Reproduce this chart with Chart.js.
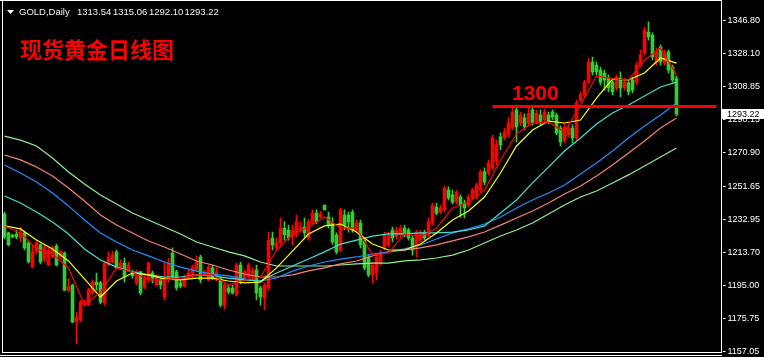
<!DOCTYPE html>
<html><head><meta charset="utf-8">
<script src="https://cdn.jsdelivr.net/npm/chart.js@4.4.1/dist/chart.umd.min.js"></script>
<style>html,body{margin:0;padding:0;background:#000;overflow:hidden}canvas{display:block}</style>
</head><body>
<canvas id="c" width="764" height="357"></canvas>
<script>
// ---------- data (GOLD, Daily) ----------
const symbolTitle = "GOLD,Daily";
const lastQuote = ["1313.54", "1315.06", "1292.10", "1293.22"];
const chartTitle = "现货黄金日线图";
const levelLabel = "1300";
const levelValue = 1297.6;
const levelFrom = 122, levelTo = 178;
const lastPrice = 1293.22;

const yTicks = [1346.80, 1328.10, 1308.85, 1290.15, 1270.90, 1251.65, 1232.95, 1213.70, 1195.00, 1175.75, 1157.05];

const O = [
1235.9,1225.0,1223.8,1224.4,1222.1,1225.0,1219.2,1205.4,1214.1,1218.1,
1209.5,1206.6,1211.2,1217.5,1211.2,1213.5,1192.2,1195.1,1173.9,1175.0,
1183.6,1183.6,1190.5,1196.8,1196.3,1184.8,1206.6,1208.3,1214.1,1204.9,
1207.7,1203.7,1202.6,1196.3,1202.6,1194.0,1198.0,1202.0,1195.1,1198.0,
1188.2,1198.0,1213.5,1202.6,1196.3,1194.5,1199.1,1199.7,1203.7,1211.2,
1200.9,1198.0,1204.9,1198.0,1199.1,1183.6,1193.4,1193.4,1189.4,1206.6,
1198.0,1199.7,1199.7,1203.7,1193.4,1187.6,1193.4,1222.1,1216.4,1219.2,
1227.8,1226.7,1222.7,1223.8,1226.7,1228.4,1222.1,1230.7,1236.4,1234.1,
1241.0,1234.1,1230.7,1223.8,1215.2,1235.3,1235.3,1237.0,1226.7,1230.7,
1220.9,1211.2,1200.9,1202.0,1207.7,1216.9,1218.1,1226.7,1222.7,1223.8,
1227.8,1226.7,1222.1,1216.9,1220.9,1225.0,1223.8,1230.7,1239.9,1237.0,
1238.2,1249.6,1246.8,1242.7,1245.6,1242.2,1241.0,1245.1,1245.6,1249.6,
1260.0,1259.4,1262.3,1265.7,1280.1,1279.5,1281.2,1285.2,1295.6,1288.1,
1291.0,1288.1,1295.6,1288.7,1292.7,1289.8,1292.7,1294.4,1292.7,1285.2,
1278.3,1281.2,1285.2,1279.5,1301.3,1304.2,1311.6,1323.1,1321.4,1318.5,
1316.8,1313.9,1311.6,1308.2,1313.9,1308.2,1311.1,1312.8,1311.6,1321.4,
1328.3,1340.3,1338.6,1323.1,1331.7,1322.5,1328.9,1320.2,1313.54
];
const H = [
1237.0,1225.5,1224.4,1226.7,1228.4,1225.5,1220.4,1218.1,1220.4,1218.6,
1218.1,1216.4,1217.5,1218.6,1215.2,1214.1,1198.6,1195.7,1179.6,1186.5,
1186.5,1193.4,1198.0,1202.0,1197.4,1208.9,1214.1,1214.6,1215.2,1209.5,
1210.6,1208.3,1203.7,1203.7,1203.1,1200.9,1208.3,1203.1,1200.9,1199.1,
1208.3,1210.6,1216.4,1203.7,1198.0,1200.9,1203.7,1206.6,1211.8,1212.3,
1203.7,1206.6,1206.6,1204.9,1199.7,1196.3,1195.1,1195.1,1207.7,1208.3,
1203.7,1207.7,1204.9,1206.6,1194.5,1196.3,1225.5,1225.5,1222.1,1233.6,
1231.3,1229.5,1229.5,1235.3,1231.3,1233.6,1233.0,1238.2,1238.2,1237.6,
1241.0,1237.0,1233.6,1225.0,1239.3,1238.2,1237.0,1238.2,1232.4,1232.4,
1222.1,1212.3,1208.3,1212.3,1215.2,1225.5,1225.5,1228.4,1228.4,1229.5,
1229.5,1227.8,1223.2,1226.7,1226.7,1226.7,1233.6,1242.2,1242.2,1241.0,
1251.9,1251.4,1249.6,1249.6,1246.8,1243.9,1246.8,1250.8,1253.7,1261.1,
1262.3,1266.9,1281.2,1278.3,1282.4,1285.2,1291.0,1296.7,1298.4,1294.4,
1293.3,1296.7,1297.3,1295.6,1295.6,1296.1,1294.4,1295.6,1293.8,1286.4,
1287.5,1287.0,1287.0,1301.3,1305.9,1312.8,1325.4,1326.0,1323.1,1320.2,
1318.5,1315.7,1312.8,1315.7,1317.4,1313.9,1312.8,1314.5,1323.1,1330.0,
1343.2,1346.1,1339.8,1331.1,1332.9,1330.0,1330.0,1321.4,1315.06
];
const L = [
1221.5,1217.5,1222.1,1221.5,1219.8,1215.2,1207.7,1204.9,1212.9,1207.2,
1208.3,1206.0,1210.6,1206.0,1210.0,1191.7,1191.1,1173.3,1161.3,1173.9,
1183.1,1183.1,1189.9,1192.2,1184.2,1183.6,1206.0,1207.7,1204.3,1203.7,
1196.8,1203.1,1199.1,1195.1,1189.4,1192.8,1196.8,1196.3,1194.5,1192.8,
1186.5,1196.8,1198.0,1192.2,1193.4,1193.9,1198.6,1199.1,1203.1,1196.3,
1200.3,1197.4,1198.0,1197.4,1182.5,1181.3,1189.9,1189.9,1188.8,1195.7,
1197.4,1199.1,1198.6,1186.5,1183.6,1180.8,1192.2,1215.2,1215.2,1218.1,
1220.9,1220.9,1218.1,1222.7,1225.5,1222.7,1220.9,1229.5,1230.1,1233.6,
1238.2,1227.8,1218.6,1212.9,1214.1,1226.7,1225.5,1225.5,1225.0,1216.4,
1203.7,1199.7,1196.3,1198.0,1206.6,1215.2,1216.9,1219.8,1221.5,1222.7,
1222.7,1220.9,1212.3,1211.2,1219.8,1220.9,1222.7,1229.5,1235.3,1235.9,
1237.0,1243.9,1241.6,1241.6,1234.1,1233.6,1239.9,1243.9,1244.5,1248.5,
1252.5,1258.3,1261.1,1264.0,1272.6,1278.3,1280.1,1284.1,1277.2,1286.4,
1284.1,1286.9,1286.9,1287.5,1286.9,1288.7,1287.5,1289.8,1281.2,1274.9,
1276.6,1280.1,1276.6,1278.3,1300.2,1303.0,1310.5,1315.7,1315.7,1309.9,
1307.0,1305.9,1304.2,1307.0,1303.0,1307.0,1304.2,1305.3,1309.9,1320.2,
1327.1,1335.7,1324.3,1321.4,1321.4,1321.4,1316.8,1311.6,1292.10
];
const C = [
1222.7,1218.1,1222.7,1222.7,1225.0,1216.4,1208.3,1214.1,1219.2,1208.3,
1216.9,1215.2,1216.4,1206.6,1214.1,1192.2,1194.0,1173.9,1176.2,1185.3,
1185.3,1192.2,1196.8,1195.1,1185.3,1207.7,1211.2,1212.3,1204.9,1207.7,
1199.7,1206.6,1200.3,1202.6,1190.5,1199.1,1207.7,1199.1,1199.7,1195.1,
1199.7,1207.7,1199.7,1193.4,1194.5,1199.7,1202.0,1205.4,1208.3,1198.0,
1202.6,1205.4,1199.1,1202.6,1183.6,1195.1,1191.1,1190.5,1206.6,1196.8,
1202.6,1206.6,1203.7,1190.5,1188.2,1195.1,1220.9,1218.1,1219.2,1227.8,
1223.8,1222.1,1226.7,1231.3,1228.4,1225.0,1231.3,1236.4,1231.3,1235.9,
1238.2,1229.5,1219.8,1214.1,1238.2,1229.5,1231.3,1226.7,1230.7,1218.1,
1204.9,1200.9,1206.6,1211.2,1213.5,1223.8,1223.8,1222.1,1226.7,1227.8,
1223.8,1222.1,1215.2,1225.0,1225.0,1222.1,1231.3,1241.0,1236.4,1239.3,
1250.8,1245.1,1242.7,1248.5,1241.0,1239.3,1245.6,1249.6,1252.5,1260.0,
1254.2,1265.1,1279.5,1275.5,1275.5,1282.9,1288.1,1294.4,1285.8,1292.7,
1285.8,1293.8,1288.1,1293.8,1288.7,1294.4,1288.7,1291.5,1282.4,1277.2,
1285.8,1285.2,1279.5,1299.6,1304.2,1311.6,1323.1,1317.4,1317.4,1311.6,
1312.8,1308.2,1305.9,1314.5,1308.2,1311.6,1305.9,1307.0,1321.4,1327.1,
1341.5,1337.5,1326.0,1328.9,1323.1,1328.3,1318.5,1312.8,1293.22
];

// moving averages, read every 4th bar (bar 0, 4, 8, ... 168)
const maStep = 4;
const maFast = [1229.0,1225.0,1215.8,1212.9,1204.9,1183.6,1191.1,1204.9,1202.6,1198.0,1198.0,1199.1,1200.9,1200.9,1195.1,1198.0,1199.7,1215.2,1224.4,1228.4,1234.1,1227.8,1227.8,1212.3,1213.5,1224.4,1222.7,1227.8,1239.3,1242.7,1249.6,1266.9,1281.8,1288.1,1288.7,1282.9,1298.4,1315.1,1313.4,1312.8,1324.3,1331.1,1315.7];
const maYellow = [1229.0,1227.3,1220.9,1215.8,1208.9,1198.6,1188.2,1197.4,1202.0,1200.9,1198.6,1198.0,1199.1,1199.1,1197.4,1196.3,1196.8,1204.9,1214.6,1224.4,1229.0,1230.1,1225.5,1218.6,1215.2,1215.2,1218.6,1225.0,1232.4,1237.6,1245.6,1259.4,1274.9,1284.1,1289.2,1288.1,1289.8,1302.4,1313.3,1312.8,1316.8,1325.4,1322.5];
const maCyan = [1246.2,1242.2,1237.0,1231.3,1224.4,1215.8,1209.5,1205.4,1202.6,1200.9,1199.7,1199.7,1200.9,1200.3,1199.1,1198.0,1197.4,1202.0,1206.0,1210.0,1214.1,1218.6,1220.9,1223.2,1224.4,1224.4,1225.0,1225.0,1225.5,1226.7,1229.0,1236.4,1243.9,1253.7,1262.8,1272.0,1279.5,1287.5,1293.8,1298.4,1303.6,1308.8,1311.6];
const maBlue = [1264.0,1259.4,1254.2,1247.9,1240.5,1232.4,1225.0,1219.8,1215.2,1211.8,1208.3,1205.4,1203.1,1201.4,1200.3,1198.6,1197.4,1199.1,1203.1,1206.0,1208.3,1210.0,1211.2,1212.9,1214.1,1215.8,1218.1,1221.5,1225.0,1227.3,1230.1,1234.1,1239.3,1243.9,1247.9,1252.5,1258.8,1265.1,1272.0,1279.5,1286.4,1292.7,1299.6];
const maSalmon = [1269.7,1266.9,1262.8,1257.7,1250.8,1243.3,1235.3,1229.5,1225.0,1220.4,1216.9,1212.9,1208.9,1206.6,1203.7,1201.4,1199.7,1199.7,1200.9,1203.2,1204.9,1207.2,1208.9,1211.8,1214.1,1215.2,1216.4,1218.1,1220.4,1222.7,1225.5,1229.5,1233.6,1237.6,1242.2,1247.3,1251.9,1257.7,1264.0,1270.9,1277.8,1285.2,1291.0];
const maGreen = [1280.6,1278.3,1274.9,1268.0,1260.0,1253.1,1246.8,1241.6,1236.4,1232.4,1228.4,1224.4,1219.8,1216.9,1214.1,1211.8,1208.3,1206.0,1206.0,1206.0,1206.0,1206.6,1207.2,1207.7,1207.7,1208.9,1209.5,1210.6,1212.3,1215.2,1219.2,1223.2,1226.7,1230.7,1235.9,1241.0,1245.6,1249.1,1253.7,1258.3,1263.4,1268.6,1273.8];

// ---------- build ----------
const SLOTS = 180; // bars + empty shift area on the right
const categories = Array.from({length: SLOTS}, (_, i) => String(i));
const UP = '#ff0000', DOWN = '#32cd32';
const isUp = i => C[i] >= O[i];

function maSeries(vals) {
  const a = new Array(O.length).fill(null);
  vals.forEach((v, k) => { a[k * maStep] = v; });
  return a;
}
const levelData = new Array(SLOTS).fill(null);
levelData[levelFrom] = levelValue; levelData[levelTo] = levelValue;

function lineDs(data, color, order, width) {
  return { type: 'line', data, borderColor: color, borderWidth: width || 1.2, pointRadius: 0,
    spanGaps: true, tension: 0, order, fill: false };
}

const deco = {
  id: 'deco',
  beforeDraw(chart) {
    const ctx = chart.ctx;
    ctx.save(); ctx.fillStyle = '#000'; ctx.fillRect(0, 0, chart.width, chart.height); ctx.restore();
  },
  afterDraw(chart) {
    const ctx = chart.ctx, ys = chart.scales.y;
    ctx.save();
    // frame
    ctx.fillStyle = '#ffffff';
    ctx.fillRect(0, 0, 722, 1);
    ctx.fillRect(2, 0, 1, 353);
    ctx.fillRect(721, 0, 1, 353);
    ctx.fillRect(2, 352, 720, 1);
    ctx.fillRect(0, 355, 722, 1);
    // title
    ctx.beginPath(); ctx.moveTo(7, 10); ctx.lineTo(14, 10); ctx.lineTo(10.5, 14); ctx.closePath(); ctx.fill();
    ctx.fillStyle = '#f2f2f2';
    ctx.font = '9.5px "Liberation Sans", Arial, sans-serif';
    ctx.textBaseline = 'alphabetic'; ctx.textAlign = 'left';
    ctx.fillText(symbolTitle, 19, 15);
    const qx = [77, 113, 149, 184.5];
    lastQuote.forEach((q, k) => ctx.fillText(q, qx[k], 15));
    // chinese title
    ctx.fillStyle = '#ff0000';
    ctx.font = 'bold 22px "Noto Sans CJK SC", sans-serif';
    ctx.fillText(chartTitle, 20, 58);
    // level label
    ctx.font = 'bold 21px "Liberation Sans", Arial, sans-serif';
    ctx.fillText(levelLabel, 512, 100);
    // last price box
    const py = Math.round(ys.getPixelForValue(lastPrice));
    ctx.fillStyle = '#ffffff';
    ctx.fillRect(722, py - 5, 42, 10);
    ctx.fillStyle = '#000000';
    ctx.font = '9px "Liberation Sans", Arial, sans-serif';
    ctx.textBaseline = 'middle';
    ctx.fillText(lastQuote[3], 727, py + 0.5);
    ctx.restore();
  }
};

new Chart(document.getElementById('c'), {
  type: 'bar',
  data: {
    labels: categories,
    datasets: [
      lineDs(levelData, '#ff0000', -1, 3),
      lineDs(maSeries(maFast), '#ff0000', 0),
      lineDs(maSeries(maYellow), '#ffff00', 0),
      lineDs(maSeries(maCyan), '#40e0d0', 0),
      lineDs(maSeries(maBlue), '#1e90ff', 0),
      lineDs(maSeries(maSalmon), '#fa8072', 0),
      lineDs(maSeries(maGreen), '#90ee90', 0),
      { type: 'bar', data: O.map((o, i) => [o, C[i]]), barThickness: 3, grouped: false, minBarLength: 1,
        backgroundColor: c => isUp(c.dataIndex) ? UP : DOWN, borderWidth: 0, order: 1 },
      { type: 'bar', data: H.map((h, i) => [L[i], h]), barThickness: 1, grouped: false,
        backgroundColor: c => isUp(c.dataIndex) ? UP : DOWN, borderWidth: 0, order: 2 }
    ]
  },
  options: {
    responsive: false, animation: false, devicePixelRatio: 1,
    layout: { padding: { left: 2.5, top: 2, bottom: 5, right: 0 } },
    plugins: { legend: { display: false }, tooltip: { enabled: false } },
    events: [],
    scales: {
      x: { display: false, offset: true },
      y: {
        position: 'right', min: 1156.65, max: 1357.55,
        afterBuildTicks: ax => { ax.ticks = yTicks.map(v => ({ value: v })); },
        afterFit: ax => { ax.width = 41.5; ax.paddingTop = 0; ax.paddingBottom = 0; },
        grid: { drawOnChartArea: false, drawTicks: true, tickLength: 3, color: '#ffffff', tickColor: '#ffffff' },
        border: { display: false },
        ticks: { autoSkip: false, padding: 2, color: '#ffffff',
          font: { family: '"Liberation Sans", Arial, sans-serif', size: 9 },
          callback: v => Number(v).toFixed(2) }
      }
    }
  },
  plugins: [deco]
});
</script>
</body></html>
